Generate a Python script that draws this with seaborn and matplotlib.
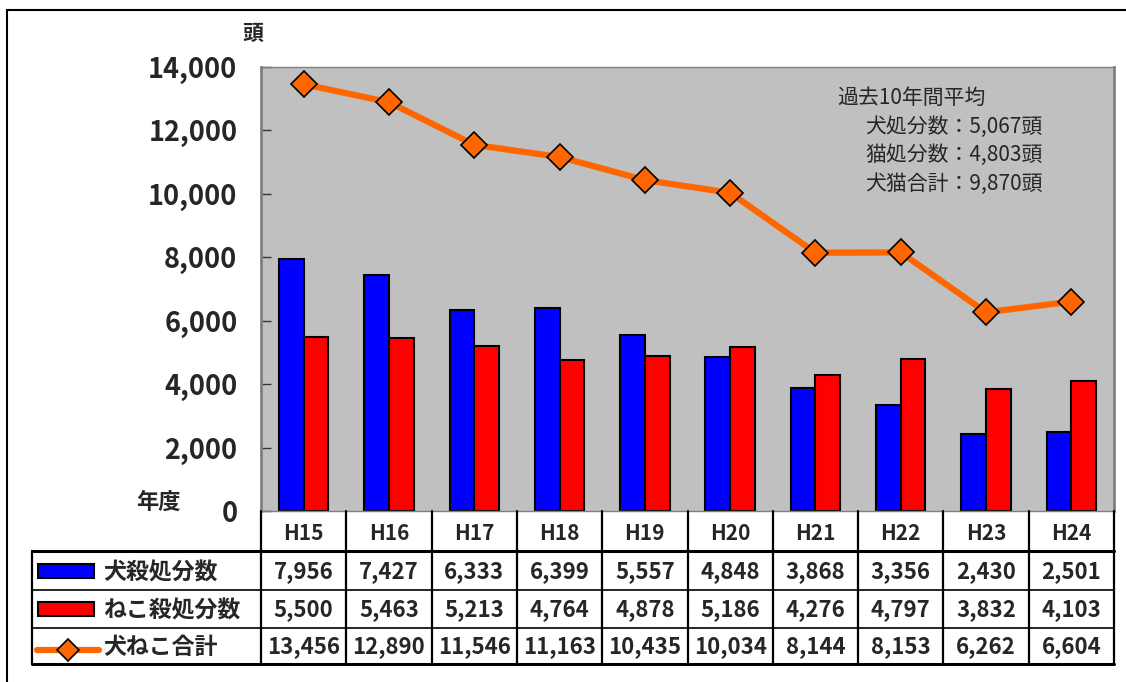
import numpy as np
import pandas as pd
import matplotlib.pyplot as plt
import matplotlib.transforms as mtransforms
from matplotlib.lines import Line2D
from matplotlib.patches import Rectangle
import seaborn as sns

sns.set_theme(style="white")
plt.rcParams['font.family'] = ['Noto Sans CJK JP', 'DejaVu Sans']

# data
years = ['H15', 'H16', 'H17', 'H18', 'H19', 'H20', 'H21', 'H22', 'H23', 'H24']
dogs = [7956, 7427, 6333, 6399, 5557, 4848, 3868, 3356, 2430, 2501]
cats = [5500, 5463, 5213, 4764, 4878, 5186, 4276, 4797, 3832, 4103]
total = [13456, 12890, 11546, 11163, 10435, 10034, 8144, 8153, 6262, 6604]
series_names = ['犬殺処分数', 'ねこ殺処分数', '犬ねこ合計']
avg_lines = ['過去10年間平均', '犬処分数：5,067頭', '猫処分数：4,803頭', '犬猫合計：9,870頭']

BLUE, RED, ORANGE, GRAY = '#0000FF', '#FF0000', '#FF6600', '#C0C0C0'

W, H = 1126, 682
fig = plt.figure(figsize=(W / 100, H / 100), dpi=100)


def fy(py):
    return 1 - py / H


def fx(px):
    return px / W


ax = fig.add_axes([fx(261), fy(511), fx(1114) - fx(261), fy(67) - fy(511)])
ax.set_facecolor(GRAY)

df = pd.DataFrame({
    'year': years * 2,
    'count': dogs + cats,
    'kind': [series_names[0]] * len(years) + [series_names[1]] * len(years),
})
sns.barplot(data=df, x='year', y='count', hue='kind', palette=[BLUE, RED],
            saturation=1, width=0.58, gap=0, edgecolor='black', linewidth=1.5,
            legend=False, ax=ax)
sns.lineplot(x=np.arange(len(years)), y=total, color=ORANGE, linewidth=4.5,
             marker='D', markersize=13, markerfacecolor=ORANGE,
             markeredgecolor='black', markeredgewidth=1.2, ax=ax, zorder=5)

ax.set_xlim(-0.5, len(years) - 0.5)
ax.set_ylim(0, 14000)
ax.set_yticks(range(0, 14001, 2000))
ax.set_yticklabels([f'{v:,}' for v in range(0, 14001, 2000)],
                   fontsize=19.5, fontweight='bold')
ax.tick_params(axis='y', direction='in', length=7, width=1, color='#333333',
               pad=17, left=True)
ax.set_xticks([])
ax.set_xlabel('')
ax.set_ylabel('')
for side, s in ax.spines.items():
    s.set_visible(True)
    s.set_color('#808080')
    s.set_linewidth(2 if side in ('left', 'right') else 1)

# average annotation
for i, t in enumerate(avg_lines):
    fig.text(fx(837) if i == 0 else fx(865), fy(98 + i * 28.5), t,
             fontsize=15, ha='left', va='center')

fig.text(fx(253), fy(33), '頭', fontsize=15, fontweight='bold',
         ha='center', va='center')
fig.text(fx(158), fy(502), '年度', fontsize=16, fontweight='bold',
         ha='center', va='center')

# data table under the plot
tr = mtransforms.blended_transform_factory(ax.transData, fig.transFigure)
lw = 1.6
row_lines = [551, 590, 628, 664]
for i, yr in enumerate(years):
    fig.text(i, fy(533), yr, transform=tr, fontsize=15, fontweight='bold',
             ha='center', va='center')
    for r, vals in enumerate([dogs, cats, total]):
        fig.text(i, fy((row_lines[r] + row_lines[r + 1]) / 2 + 1),
                 f'{vals[i]:,}', transform=tr, fontsize=16, fontweight='bold',
                 ha='center', va='center')
for i in range(len(years) + 1):
    fig.add_artist(Line2D([i - 0.5, i - 0.5], [fy(511), fy(664)],
                          transform=tr, color='black', lw=lw))
for k, py in enumerate(row_lines):
    fig.add_artist(Line2D([fx(32), fx(1114)], [fy(py), fy(py)],
                          color='black', lw=2.2 if k in (0, 3) else 1.2))
fig.add_artist(Line2D([fx(32), fx(32)], [fy(551), fy(664)], color='black', lw=lw))

# legend keys inside the table
for r, name in enumerate(series_names):
    cy = (row_lines[r] + row_lines[r + 1]) / 2
    if r < 2:
        fig.add_artist(Rectangle((fx(38), fy(cy + 7)), fx(94) - fx(38), fy(cy - 7) - fy(cy + 7),
                                 facecolor=[BLUE, RED][r], edgecolor='black', lw=1.5))
    else:
        fig.add_artist(Line2D([fx(37), fx(99)], [fy(cy + 4), fy(cy + 4)], color=ORANGE, lw=4.5))
        fig.add_artist(Line2D([fx(68)], [fy(cy + 4)], marker='D', markersize=11,
                              markerfacecolor=ORANGE, markeredgecolor='black', markeredgewidth=1.2))
    fig.text(fx(103), fy(cy + 2), name, fontsize=16.5, fontweight='bold',
             ha='left', va='center')

# outer frame (top and left edges visible)
fig.add_artist(Line2D([fx(7), 1], [fy(10), fy(10)], color='black', lw=1.5))
fig.add_artist(Line2D([fx(7), fx(7)], [fy(10), 0], color='black', lw=1.5))

fig.savefig('out.png', dpi=100, facecolor='white')
